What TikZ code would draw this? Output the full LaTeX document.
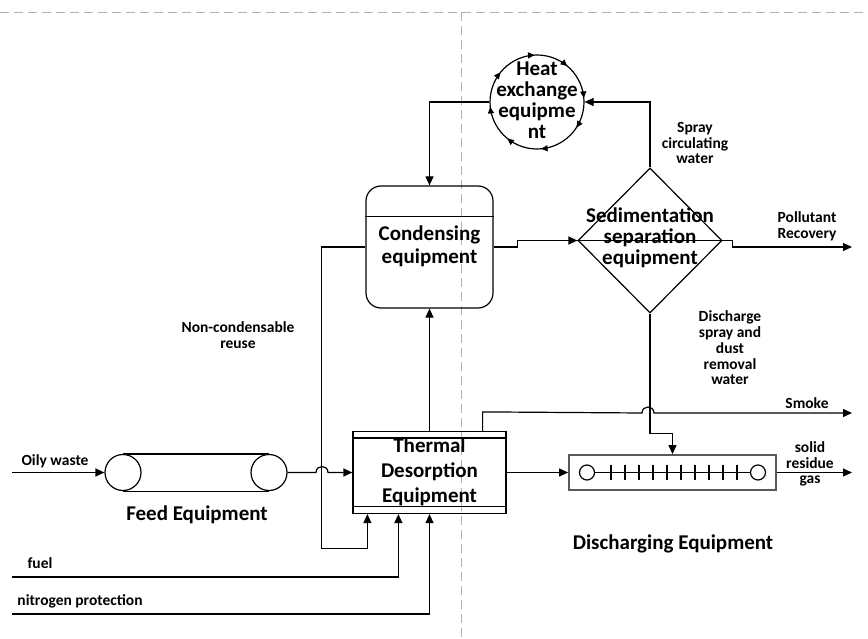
\documentclass[tikz,border=0pt]{standalone}
\usepackage{fontspec}
\setmainfont{Carlito}
\usetikzlibrary{arrows.meta,shapes.geometric,calc}
\begin{document}
\begin{tikzpicture}[x=1pt,y=-1pt,line width=1.2pt,
  arr/.style={-{Triangle[length=9pt,width=8pt]}},
  lab/.style={font=\bfseries\fontsize{15.5}{15.8}\selectfont,align=center,inner sep=0},
  big/.style={font=\bfseries\fontsize{21}{22}\selectfont,align=center,inner sep=0},
  guide/.style={draw=black!30,line width=0.8pt,dash pattern=on 9pt off 5pt}]
\useasboundingbox (0,0) rectangle (868,639);
% guide lines
\draw[guide] (0,12) -- (868,12);
\draw[guide] (461,12) -- (461,639);

% heat exchanger
\node[circle,draw,minimum size=94,inner sep=0] (he) at (537,102) {};
\node[big,font=\bfseries\fontsize{21}{21}\selectfont] (het) at (537,100) {Heat\\exchange\\equipme\\nt};
\begin{scope}[shift={(he.center)}]
  \foreach \a in {95,52,7,-31,-83,-127,-172,143}
    \draw[-{Triangle[length=6.5pt,width=6pt]}] ({\a+6}:47pt) arc[start angle={\a+6},end angle={\a-2},radius=47pt];
\end{scope}

% condensing
\node[draw,rounded corners=15pt,minimum width=127,minimum height=122,inner sep=0] (cond) at (429.5,247) {};
\draw ([yshift=-31pt]cond.north west) -- ([yshift=-31pt]cond.north east);
\node[big,font=\bfseries\fontsize{21}{23}\selectfont] (condt) at (429.5,246) {Condensing\\equipment};

% sedimentation
\node[diamond,draw,minimum width=144,minimum height=145,inner sep=0] (dia) at (650,240.5) {};
\draw (dia.west) -- (dia.east);
\node[big,font=\bfseries\fontsize{21}{21}\selectfont] (diat) at (650,238) {Sedimentation\\separation\\equipment};

% thermal desorption
\node[draw,minimum width=153,minimum height=82,inner sep=0] (td) at (429.5,472.5) {};
\draw ([yshift=-7pt]td.north west) -- ([yshift=-7pt]td.north east);
\draw ([yshift=8pt]td.south west) -- ([yshift=8pt]td.south east);
\node[big,font=\bfseries\fontsize{21}{25}\selectfont] (tdt) at (429.5,472) {Thermal\\Desorption\\Equipment};

% feed equipment
\node[circle,draw,minimum size=36,inner sep=0] (fl) at (123,472.5) {};
\node[circle,draw,minimum size=36,inner sep=0] (fr) at (269,472.5) {};
\draw (fl.north) -- (fr.north);
\draw (fl.south) -- (fr.south);
\node[big] (fdt) at (197,515) {Feed Equipment};

% discharging equipment
\node[draw=black!65,line width=1.8pt,minimum width=207,minimum height=35,inner sep=0] (de) at (672.5,472.5) {};
\node[circle,draw,minimum size=15,inner sep=0] (dc1) at (587,472.5) {};
\node[circle,draw,minimum size=15,inner sep=0] (dc2) at (758,472.5) {};
\draw (dc1) -- (dc2);
\foreach \k in {0,...,9} \draw ({611+14*\k},465) -- ++(0,15);
\node[big] (det) at (673,544) {Discharging Equipment};

% free ends
\coordinate (ow) at (12,472.5);
\coordinate (fuel) at (12,577);
\coordinate (nit) at (12,614);
\coordinate (pol) at (852,247);
\coordinate (smk) at (852,413);
\coordinate (sol) at (852,472.5);

% connectors
\draw[arr] (dia.north) |- (he.east);
\draw[arr] (he.west) -| (cond.north);
\draw[arr] (cond.east) -- ++(24,0) |- (dia.west);
\draw[arr] (dia.east) -- ++(10,0) |- (pol);
\draw[arr] (td.north -| cond.south) -- (cond.south);
\draw[arr] (cond.west) -- ++(-44,0) |- ($(td.south west)+(15,34)$) -- ([xshift=15pt]td.south west);
\draw[arr] (ow) -- (fl.west);
\draw[arr] (fr.east) -- (316,472.5) .. controls (316,464.5) and (328,464.5) .. (328,472.5) -- (td.west);
\draw[arr] (fuel) -| ([xshift=46pt]td.south west);
\draw[arr] (nit) -| (td.south);
\draw[arr] ([xshift=-24pt]td.north east) -- ++(0,-19) -- (642,413) .. controls (642,405) and (654,405) .. (654,413) -- (smk);
\draw[arr] (td.east) -- (de.west);
\draw[arr] (dia.south) |- ($(de.north)+(0,-21)$) -- (de.north);
\draw[arr] (de.east) -- (sol);

% labels
\node[lab] (l1) at (55,461) {Oily waste};
\node[lab] (l2) at (40,563) {fuel};
\node[lab] (l3) at (80,601) {nitrogen protection};
\node[lab] (l4) at (238,335) {Non-condensable\\reuse};
\node[lab] (l5) at (695,143) {Spray\\circulating\\water};
\node[lab] (l6) at (807,226) {Pollutant\\Recovery};
\node[lab] (l7) at (730,348) {Discharge\\spray and\\dust\\removal\\water};
\node[lab] (l8) at (807,403) {Smoke};
\node[lab] (l9) at (810,464) {solid\\residue\\gas};
\end{tikzpicture}
\end{document}
